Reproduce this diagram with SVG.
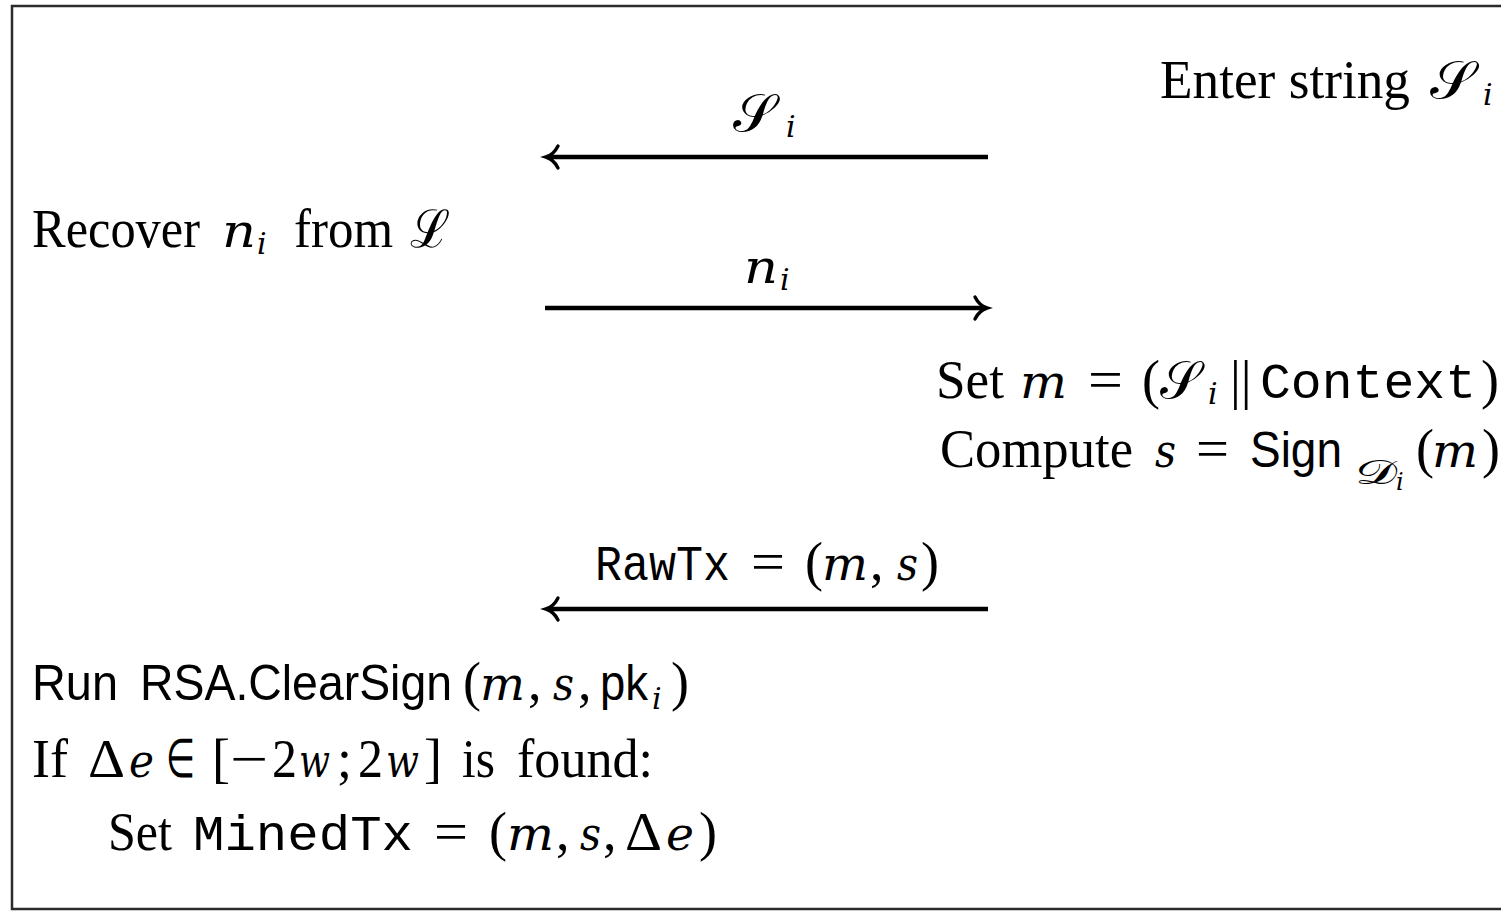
<svg xmlns="http://www.w3.org/2000/svg" width="1501" height="911" viewBox="0 0 1501 911">
<style>
text{fill:#000}
.rm{font-family:"Liberation Serif",serif;font-size:54px}
.it{font-family:"DejaVu Serif","Liberation Serif",serif;font-style:italic;font-size:46px}
.sf{font-family:"Liberation Sans",sans-serif;font-size:50px}
.tt{font-family:"Liberation Mono",monospace;font-size:50px}
.sub{font-family:"DejaVu Serif","Liberation Serif",serif;font-style:italic;font-size:30px}
.cal{font-family:"DejaVu Serif","Noto Sans","DejaVu Sans",serif;font-size:52px}
.conn{stroke:#000;stroke-width:4.5;fill:none}
</style>
<defs>
<marker id="ah" markerUnits="userSpaceOnUse" markerWidth="30" markerHeight="30" refX="0" refY="0" viewBox="-16 -15 20 30" orient="auto" overflow="visible">
<path d="M-11,-11 C-8,-5 -4,-1.5 1,0 C-4,1.5 -8,5 -11,11" stroke="#000" stroke-width="3.4" fill="none" stroke-linecap="round"/>
</marker>
</defs>
<rect x="12" y="6" width="1510" height="903" fill="#fff" stroke="#2b2b2b" stroke-width="2.5"/>

<g id="connectors">
<line class="conn" x1="988" y1="157" x2="547" y2="157" marker-end="url(#ah)"/>
<line class="conn" x1="545" y1="308" x2="986" y2="308" marker-end="url(#ah)"/>
<line class="conn" x1="988" y1="609" x2="547" y2="609" marker-end="url(#ah)"/>
</g>

<g id="enter-string">
<text class="rm" x="1160" y="98" textLength="250" lengthAdjust="spacingAndGlyphs">Enter string</text>
<text class="cal" x="1430" y="98" textLength="44" lengthAdjust="spacingAndGlyphs">𝒮</text>
<text class="sub" x="1483" y="105">i</text>
</g>

<g id="label-s">
<text class="cal" x="733" y="131" textLength="42" lengthAdjust="spacingAndGlyphs">𝒮</text>
<text class="sub" x="786" y="137">i</text>
</g>

<g id="recover">
<text class="rm" x="32" y="247" textLength="168" lengthAdjust="spacingAndGlyphs">Recover</text>
<text class="it" x="222" y="247" textLength="34" lengthAdjust="spacingAndGlyphs">n</text>
<text class="sub" x="257" y="254">i</text>
<text class="rm" x="294" y="247" textLength="99" lengthAdjust="spacingAndGlyphs">from</text>
<text class="cal" x="410" y="247" textLength="40" lengthAdjust="spacingAndGlyphs">ℒ</text>
</g>

<g id="label-n">
<text class="it" x="744" y="283" textLength="34" lengthAdjust="spacingAndGlyphs">n</text>
<text class="sub" x="780" y="290">i</text>
</g>

<g id="set-m">
<text class="rm" x="936" y="398" textLength="68" lengthAdjust="spacingAndGlyphs">Set</text>
<text class="it" x="1020" y="398" textLength="47" lengthAdjust="spacingAndGlyphs">m</text>
<text class="rm" x="1088" y="398" textLength="35" lengthAdjust="spacingAndGlyphs">=</text>
<text class="rm" x="1142" y="398">(</text>
<text class="cal" x="1160" y="398" textLength="40" lengthAdjust="spacingAndGlyphs">𝒮</text>
<text class="sub" x="1208" y="404">i</text>
<text class="rm" x="1230" y="398">||</text>
<text class="tt" x="1260" y="398" textLength="216" lengthAdjust="spacingAndGlyphs">Context</text>
<text class="rm" x="1481" y="398">)</text>
</g>

<g id="compute-s">
<text class="rm" x="940" y="467" textLength="193" lengthAdjust="spacingAndGlyphs">Compute</text>
<text class="it" x="1155" y="467" textLength="21" lengthAdjust="spacingAndGlyphs">s</text>
<text class="rm" x="1196" y="467" textLength="33" lengthAdjust="spacingAndGlyphs">=</text>
<text class="sf" x="1250" y="467" textLength="92" lengthAdjust="spacingAndGlyphs">Sign</text>
<text class="cal" x="1355" y="484" style="font-size:34px" textLength="42" lengthAdjust="spacingAndGlyphs">𝒟</text>
<text class="sub" x="1396" y="490" style="font-size:24px">i</text>
<text class="rm" x="1416" y="467">(</text>
<text class="it" x="1432" y="467" textLength="46" lengthAdjust="spacingAndGlyphs">m</text>
<text class="rm" x="1482" y="467">)</text>
</g>

<g id="label-rawtx">
<text class="tt" x="595" y="580" textLength="135" lengthAdjust="spacingAndGlyphs">RawTx</text>
<text class="rm" x="751" y="580" textLength="34" lengthAdjust="spacingAndGlyphs">=</text>
<text class="rm" x="805" y="580">(</text>
<text class="it" x="822" y="580" textLength="46" lengthAdjust="spacingAndGlyphs">m</text>
<text class="rm" x="870" y="580">,</text>
<text class="it" x="897" y="580" textLength="21" lengthAdjust="spacingAndGlyphs">s</text>
<text class="rm" x="921" y="580">)</text>
</g>

<g id="run-clearsign">
<text class="sf" x="32" y="700" textLength="86" lengthAdjust="spacingAndGlyphs">Run</text>
<text class="sf" x="140" y="700" textLength="312" lengthAdjust="spacingAndGlyphs">RSA.ClearSign</text>
<text class="rm" x="463" y="700">(</text>
<text class="it" x="480" y="700" textLength="45" lengthAdjust="spacingAndGlyphs">m</text>
<text class="rm" x="528" y="700">,</text>
<text class="it" x="553" y="700" textLength="21" lengthAdjust="spacingAndGlyphs">s</text>
<text class="rm" x="578" y="700">,</text>
<text class="sf" x="600" y="700" textLength="48" lengthAdjust="spacingAndGlyphs">pk</text>
<text class="sub" x="652" y="709">i</text>
<text class="rm" x="671" y="700">)</text>
</g>

<g id="if-found">
<text class="rm" x="32" y="777" textLength="36" lengthAdjust="spacingAndGlyphs">If</text>
<text class="rm" x="88" y="777" textLength="37" lengthAdjust="spacingAndGlyphs">Δ</text>
<text class="it" x="129" y="777" textLength="25" lengthAdjust="spacingAndGlyphs">e</text>
<text class="rm" x="166" y="777" textLength="29" lengthAdjust="spacingAndGlyphs">∈</text>
<text class="rm" x="212" y="777">[</text>
<text class="rm" x="230" y="777" textLength="38" lengthAdjust="spacingAndGlyphs">−</text>
<text class="rm" x="272" y="777" textLength="25" lengthAdjust="spacingAndGlyphs">2</text>
<text class="it" x="299" y="777" textLength="31" lengthAdjust="spacingAndGlyphs">w</text>
<text class="rm" x="337" y="777">;</text>
<text class="rm" x="358" y="777" textLength="25" lengthAdjust="spacingAndGlyphs">2</text>
<text class="it" x="386" y="777" textLength="33" lengthAdjust="spacingAndGlyphs">w</text>
<text class="rm" x="424" y="777">]</text>
<text class="rm" x="462" y="777" textLength="33" lengthAdjust="spacingAndGlyphs">is</text>
<text class="rm" x="517" y="777" textLength="136" lengthAdjust="spacingAndGlyphs">found:</text>
</g>

<g id="set-minedtx">
<text class="rm" x="108" y="850" textLength="64" lengthAdjust="spacingAndGlyphs">Set</text>
<text class="tt" x="193" y="850" textLength="220" lengthAdjust="spacingAndGlyphs">MinedTx</text>
<text class="rm" x="434" y="850" textLength="34" lengthAdjust="spacingAndGlyphs">=</text>
<text class="rm" x="489" y="850">(</text>
<text class="it" x="507" y="850" textLength="47" lengthAdjust="spacingAndGlyphs">m</text>
<text class="rm" x="556" y="850">,</text>
<text class="it" x="580" y="850" textLength="21" lengthAdjust="spacingAndGlyphs">s</text>
<text class="rm" x="603" y="850">,</text>
<text class="rm" x="625" y="850" textLength="37" lengthAdjust="spacingAndGlyphs">Δ</text>
<text class="it" x="666" y="850" textLength="28" lengthAdjust="spacingAndGlyphs">e</text>
<text class="rm" x="699" y="850">)</text>
</g>
</svg>
